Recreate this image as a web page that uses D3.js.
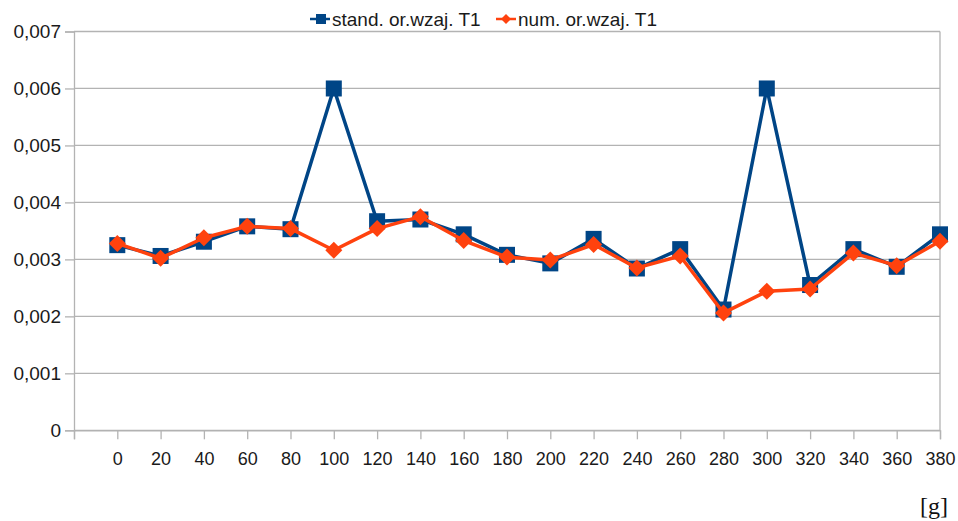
<!DOCTYPE html>
<html><head><meta charset="utf-8">
<script src="https://cdn.jsdelivr.net/npm/d3@7"></script>
<style>body{margin:0;background:#fff}svg{display:block}</style>
</head><body>
<svg id="c" width="958" height="521"></svg>
<script>
const xCats = [0,20,40,60,80,100,120,140,160,180,200,220,240,260,280,300,320,340,360,380];
const standVals = [0.00325,0.00306,0.00331,0.00358,0.00353,0.00600,0.00367,0.00370,0.00344,0.00308,0.00293,0.00336,0.00284,0.00318,0.00212,0.00600,0.00255,0.00318,0.00287,0.00344];
const numVals   = [0.00328,0.00302,0.00338,0.00358,0.00354,0.00316,0.00354,0.00375,0.00333,0.00304,0.00299,0.00326,0.00285,0.00306,0.00206,0.00244,0.00248,0.00311,0.00289,0.00332];
const yTicks = [0,0.001,0.002,0.003,0.004,0.005,0.006,0.007];
const xTicks = [-20,0,20,40,60,80,100,120,140,160,180,200,220,240,260,280,300,320,340,360,380];
const seriesNames = ["stand. or.wzaj. T1","num. or.wzaj. T1"];
const unitLabel = "[g]";

const svg = d3.select("#c");
const L=74, R=940, T=31.5, B=430.3;
const x = d3.scaleLinear().domain([-20,380]).range([L,R]);
const y = d3.scaleLinear().domain([0,0.007]).range([B,T]);
const grid = "#b3b3b3";
const font = "'Liberation Sans', Arial, sans-serif";
const txt = "#1a1a1a";
const fmt = v => v===0 ? "0" : d3.format(".3f")(v).replace(".", ",");
const diamond = r => `M0,${-r}L${r},0L0,${r}L${-r},0Z`;

// gridlines
svg.append("g").selectAll("line").data(yTicks).join("line")
  .attr("x1",L).attr("x2",R).attr("y1",d=>y(d)).attr("y2",d=>y(d))
  .attr("stroke",grid).attr("stroke-width",1.3);
svg.append("line").attr("x1",R).attr("x2",R).attr("y1",T).attr("y2",B).attr("stroke",grid).attr("stroke-width",1.3);

// y axis
const yAxis = svg.append("g").attr("transform",`translate(${L},0)`)
  .call(d3.axisLeft(y).tickValues(yTicks).tickSize(9).tickPadding(4).tickFormat(fmt));
yAxis.select(".domain").attr("stroke",grid).attr("stroke-width",1.3);
yAxis.selectAll(".tick line").attr("stroke",grid).attr("stroke-width",1.3);
yAxis.selectAll("text").attr("font-family",font).attr("font-size",19).attr("fill",txt);

// x axis
const xAxis = svg.append("g").attr("transform",`translate(0,${B})`)
  .call(d3.axisBottom(x).tickValues(xTicks).tickSize(9).tickPadding(13).tickFormat(d=>d<0?"":d));
xAxis.select(".domain").attr("stroke",grid).attr("stroke-width",1.3);
xAxis.selectAll(".tick line").attr("stroke",grid).attr("stroke-width",1.3);
xAxis.selectAll("text").attr("font-family",font).attr("font-size",18).attr("fill",txt);

const blue="#004586", orange="#ff420e";
const line = d3.line().x((d,i)=>x(xCats[i])).y(d=>y(d));

svg.append("path").datum(standVals).attr("d",line).attr("fill","none").attr("stroke",blue).attr("stroke-width",3.5).attr("stroke-linejoin","round");
svg.append("g").selectAll("rect").data(standVals).join("rect")
  .attr("x",(d,i)=>x(xCats[i])-8).attr("y",d=>y(d)-8).attr("width",16).attr("height",16).attr("fill",blue);

svg.append("path").datum(numVals).attr("d",line).attr("fill","none").attr("stroke",orange).attr("stroke-width",3.5).attr("stroke-linejoin","round");
svg.append("g").selectAll("path").data(numVals).join("path")
  .attr("transform",(d,i)=>`translate(${x(xCats[i])},${y(d)})`).attr("d",diamond(8.5)).attr("fill",orange);

// legend
const leg = svg.append("g");
const items = [{name:seriesNames[0],c:blue,sx:310,sq:true},{name:seriesNames[1],c:orange,sx:496,sq:false}];
items.forEach(it=>{
  leg.append("line").attr("x1",it.sx).attr("x2",it.sx+20).attr("y1",19).attr("y2",19).attr("stroke",it.c).attr("stroke-width",2.5);
  if(it.sq) leg.append("rect").attr("x",it.sx+6).attr("y",14).attr("width",10).attr("height",10).attr("fill",it.c);
  else leg.append("path").attr("transform",`translate(${it.sx+10},19)`).attr("d",diamond(5)).attr("fill",it.c);
  leg.append("text").attr("x",it.sx+22).attr("y",26).attr("font-family",font).attr("font-size",19).attr("fill",txt).text(it.name);
});

svg.append("text").attr("x",948).attr("y",514).attr("text-anchor","end")
  .attr("font-family","'Liberation Serif','DejaVu Serif',serif").attr("font-size",24).attr("fill","#111").text(unitLabel);
</script>
</body></html>
